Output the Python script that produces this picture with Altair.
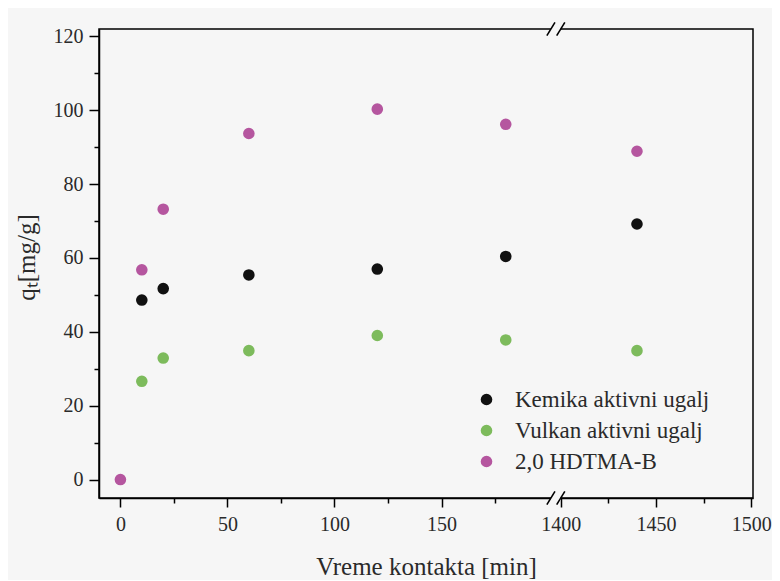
import altair as alt
import pandas as pd

# ---- data ----
times = [0, 10, 20, 60, 120, 180, 1440]
kemika = [None, 48.6, 51.7, 55.4, 57.0, 60.4, 69.2]
vulkan = [None, 26.6, 32.9, 34.9, 39.0, 37.8, 34.9]
hdtma = [0.0, 56.8, 73.2, 93.7, 100.3, 96.2, 88.9]
series_names = ["Kemika aktivni ugalj", "Vulkan aktivni ugalj", "2,0 HDTMA-B"]
series_colors = ["#111111", "#7dbb5c", "#b5569f"]

x_major_low = [0, 50, 100, 150]
x_minor_low = [25, 75, 125, 175]
x_major_high = [1400, 1450, 1500]
x_minor_high = [1425, 1475]
y_major = [0, 20, 40, 60, 80, 100, 120]
y_minor = [10, 30, 50, 70, 90, 110]

# broken-axis mapping: second segment starts at 1400
SEG2_AT = 205.7   # plotted position of 1400
SEG2_K = 0.89     # compression of second segment
X_DOMAIN = [-10, 295.5]
Y_DOMAIN = [-5, 122]
BREAK_LEFT = 201.1


def fwd(t):
    return t if t < 1000 else SEG2_AT + (t - 1400) * SEG2_K


rows = []
for name, vals in zip(series_names, [kemika, vulkan, hdtma]):
    for t, v in zip(times, vals):
        if v is not None:
            rows.append({"t": t, "q": v, "serija": name})
df = pd.DataFrame(rows)

FONT = "Times New Roman, Liberation Serif, serif"
TXT = "#2a2a2a"
BG = "#f6f6f6"

xscale = alt.Scale(domain=X_DOMAIN, nice=False, zero=False)
yscale = alt.Scale(domain=Y_DOMAIN, nice=False, zero=False)

label_expr = (
    f"datum.value < 200 ? format(datum.value, 'd') : "
    f"format(round(1400 + (datum.value - {SEG2_AT}) / {SEG2_K}), 'd')"
)

x_axis_major = alt.Axis(
    values=[fwd(v) for v in x_major_low + x_major_high],
    labelExpr=label_expr, tickSize=9, tickWidth=1.5, domainWidth=1.5,
    domainColor="black", tickColor="black", labelPadding=7,
    labelFont=FONT, labelFontSize=20, labelColor=TXT, grid=False,
    title="Vreme kontakta [min]", titleFont=FONT, titleFontSize=25,
    titleFontWeight="normal", titleColor=TXT, titleBaseline="middle",
    titleY=68, orient="bottom",
)
y_axis_major = alt.Axis(
    values=y_major, tickSize=10, tickWidth=1.5, domainWidth=1.5,
    domainColor="black", tickColor="black", labelPadding=6,
    labelFont=FONT, labelFontSize=20, labelColor=TXT, grid=False,
    title="qₜ[mg/g]", titleFont=FONT, titleFontSize=25,
    titleFontWeight="normal", titleColor=TXT, titleX=-73, titleY=228,
    titleBaseline="middle", orient="left",
)
x_axis_minor = alt.Axis(
    values=[fwd(v) for v in x_minor_low + x_minor_high], labels=False,
    tickSize=5, tickWidth=1.5, tickColor="black", domain=False, grid=False,
    title="", orient="bottom",
)
y_axis_minor = alt.Axis(
    values=y_minor, labels=False, tickSize=5, tickWidth=1.5,
    tickColor="black", domain=False, grid=False, title="", orient="left",
)

base = alt.Chart(df).transform_calculate(
    xp=f"datum.t < 1000 ? datum.t : {SEG2_AT} + (datum.t - 1400) * {SEG2_K}"
)

points = base.mark_circle(size=135, opacity=1).encode(
    x=alt.X("xp:Q", scale=xscale, axis=x_axis_major),
    y=alt.Y("q:Q", scale=yscale, axis=y_axis_major),
    color=alt.Color(
        "serija:N",
        scale=alt.Scale(domain=series_names, range=series_colors),
        sort=series_names,
        legend=alt.Legend(
            title=None, orient="none", legendX=376, legendY=359,
            labelFont=FONT, labelFontSize=23, labelColor=TXT, labelLimit=400,
            symbolSize=135, symbolType="circle", labelOffset=17,
            rowPadding=7, symbolStrokeWidth=0,
        ),
    ),
)

minor = base.mark_circle(opacity=0).encode(
    x=alt.X("xp:Q", scale=xscale, axis=x_axis_minor),
    y=alt.Y("q:Q", scale=yscale, axis=y_axis_minor),
)

# axis-break decoration ("//") at bottom and top frame lines
brk_rows = []
gap_rows = []
for yb in Y_DOMAIN:
    gap_rows.append({"x": BREAK_LEFT, "x2": SEG2_AT, "y": yb})
    for c in [BREAK_LEFT, SEG2_AT]:
        brk_rows.append({"x": c - 1.9, "x2": c + 1.9, "y": yb - 1.8, "y2": yb + 1.8})
gap_df = pd.DataFrame(gap_rows)
brk_df = pd.DataFrame(brk_rows)

gap = alt.Chart(gap_df).mark_rule(color=BG, strokeWidth=5).encode(
    x=alt.X("x:Q", scale=xscale, axis=None),
    x2="x2:Q",
    y=alt.Y("y:Q", scale=yscale, axis=None),
)
slashes = alt.Chart(brk_df).mark_rule(color="black", strokeWidth=1.6).encode(
    x=alt.X("x:Q", scale=xscale, axis=None),
    x2="x2:Q",
    y=alt.Y("y:Q", scale=yscale, axis=None),
    y2="y2:Q",
)

chart = alt.layer(points, minor, gap, slashes).resolve_axis(
    x="independent", y="independent"
).properties(
    width=654, height=469,
    autosize=alt.AutoSizeParams(type="none"),
    padding={"left": 91, "top": 21, "right": 19, "bottom": 82},
    background=BG,
).configure_view(stroke="black", strokeWidth=1.5)

chart.save("out.html", embed_options={"renderer": "svg", "actions": False})
